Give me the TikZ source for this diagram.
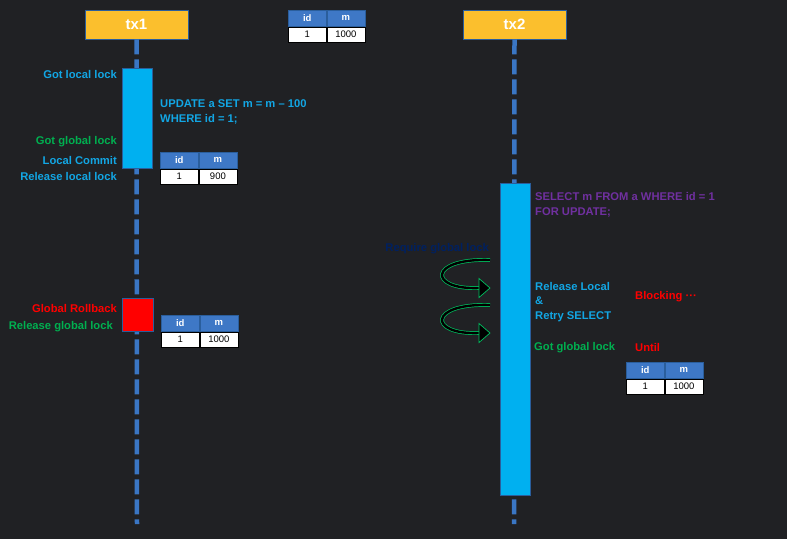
\documentclass[tikz,border=0pt]{standalone}
\usepackage{fontspec}
\setmainfont{Liberation Sans}
\definecolor{bg}{HTML}{202124}
\definecolor{orng}{HTML}{FBBF2D}
\definecolor{lifeblue}{HTML}{3A76C4}
\definecolor{cyanbar}{HTML}{00B0F0}
\definecolor{barborder}{HTML}{2A5E9C}
\definecolor{hdrblue}{HTML}{3E78C6}
\definecolor{ltxt}{HTML}{12A6E4}
\definecolor{gtxt}{HTML}{00B050}
\definecolor{rtxt}{HTML}{FF0000}
\definecolor{ptxt}{HTML}{7030A0}
\definecolor{ntxt}{HTML}{002060}
\definecolor{arrgreen}{HTML}{00C060}
\tikzset{
  txbox/.style={fill=orng,draw=barborder,line width=0.8pt,minimum width=103pt,minimum height=29pt,inner sep=0pt,text=white,font=\fontsize{15}{15}\selectfont\bfseries},
  life/.style={draw=lifeblue,line width=4.5pt,dash pattern=on 15pt off 5pt},
  actbar/.style={fill=cyanbar,draw=barborder,line width=0.8pt},
  rollbox/.style={fill=red,draw=barborder,line width=0.8pt},
  hcell/.style={fill=hdrblue,draw=barborder,line width=0.6pt,minimum width=38pt,minimum height=16pt,inner sep=0pt,text=white,font=\fontsize{9.5}{10}\selectfont\bfseries},
  dcell/.style={fill=white,draw=black,line width=0.8pt,minimum width=38pt,minimum height=15pt,inner sep=0pt,text=black,font=\fontsize{9.5}{10}\selectfont},
  lbl/.style={inner sep=0pt,font=\fontsize{11.2}{14.5}\selectfont\bfseries,align=left},
  curvarrow/.style={draw=arrgreen,double=black,double distance=2.4pt,line width=0.7pt},
  arrhead/.style={fill=black,draw=arrgreen,line width=0.7pt},
}
\newcommand{\dbtable}[4]{%
  \node[hcell,anchor=north west] (#1h1) at (#2,#3) {id};
  \node[hcell,anchor=north west] (#1h2) at (#1h1.north east) {m};
  \node[dcell,anchor=north] (#1d1) at (#1h1.south) {1};
  \node[dcell,anchor=north] (#1d2) at (#1h2.south) {#4};
}
\begin{document}
\begin{tikzpicture}[x=1pt,y=-1pt]
\useasboundingbox (0,0) rectangle (787,539);
\fill[bg] (0,0) rectangle (787,539);
% headers
\node[txbox] (tx1) at (136.5,24.5) {tx1};
\node[txbox] (tx2) at (514.5,24.5) {tx2};
% lifelines
\coordinate (end1) at (137,524);
\coordinate (end2) at (514,524);
\draw[life] (tx1.south) -- (end1);
\draw[life] (tx2.south) -- (end2);
% activation boxes
\node[actbar,minimum width=30pt,minimum height=100pt,inner sep=0pt,anchor=north] (act1) at (137,68) {};
\node[rollbox,minimum width=31pt,minimum height=33pt,inner sep=0pt,anchor=north] (roll1) at (137.5,298) {};
\node[actbar,minimum width=30pt,minimum height=312pt,inner sep=0pt,anchor=north] (act2) at (515,183) {};
% tables
\dbtable{t0}{288}{10}{1000}
\dbtable{t1}{160}{152}{900}
\dbtable{t2}{161}{315}{1000}
\dbtable{t3}{626}{362}{1000}
% tx1 labels
\node[lbl,text=ltxt,anchor=east] (l1) at (117,74) {Got local lock};
\node[lbl,text=ltxt,anchor=west] (l2) at (160,112) {UPDATE a SET m = m – 100\\WHERE id = 1;};
\node[lbl,text=gtxt,anchor=east] (l3) at (117,142) {Got global lock};
\node[lbl,text=ltxt,anchor=east] (l4) at (117,160) {Local Commit};
\node[lbl,text=ltxt,anchor=east] (l5) at (117,176) {Release local lock};
\node[lbl,text=rtxt,anchor=east] (l6) at (117,308) {Global Rollback};
\node[lbl,text=gtxt,anchor=east] (l7) at (113,327) {Release global lock};
% tx2 labels
\node[lbl,text=ptxt,anchor=west] (m1) at (535,205) {SELECT m FROM a WHERE id = 1\\FOR UPDATE;};
\node[lbl,text=ntxt,anchor=east] (m2) at (489,249) {Require global lock};
\node[lbl,text=ltxt,anchor=west] (m3) at (535,302) {Release Local\\\&\\Retry SELECT};
\node[lbl,text=rtxt,anchor=west] (m4) at (635,297) {Blocking ···};
\node[lbl,text=gtxt,anchor=west] (m5) at (534,348) {Got global lock};
\node[lbl,text=rtxt,anchor=west] (m6) at (635,347) {Until};
% curved arrows
\coordinate (a1s) at (490,260);
\coordinate (a1e) at (479,288);
\coordinate (a2s) at (490,305);
\coordinate (a2e) at (479,333);
\draw[curvarrow] (a1s) .. controls (428,258) and (428,290) .. (a1e);
\draw[arrhead] (479,278.5) -- (490,288) -- (479,297.5) -- cycle;
\draw[curvarrow] (a2s) .. controls (428,303) and (428,335) .. (a2e);
\draw[arrhead] (479,323.5) -- (490,333) -- (479,342.5) -- cycle;
\end{tikzpicture}
\end{document}
